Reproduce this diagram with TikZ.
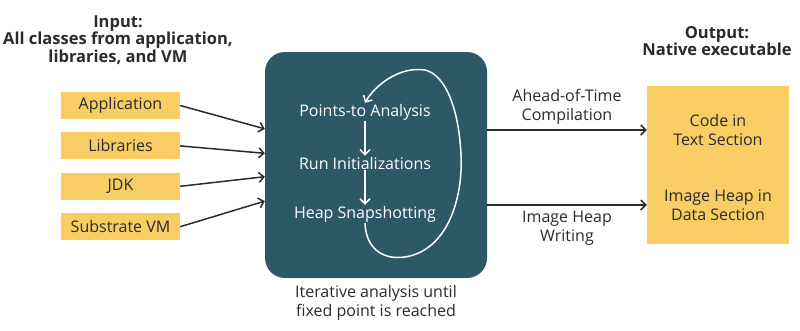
\documentclass[tikz,border=0pt]{standalone}
\usepackage{fontspec}
\setmainfont{Open Sans}
\usepackage{xcolor}
\usetikzlibrary{arrows.meta,positioning}
\definecolor{ochre}{HTML}{F8CD63}
\definecolor{petrol}{HTML}{2C5868}
\definecolor{ink}{HTML}{2B2B2B}

\begin{document}
\begin{tikzpicture}[
    x=1pt, y=-1pt,
    font=\fontsize{16}{18.5}\selectfont,
    node distance=13pt and 9mm,
    inbox/.style={fill=ochre, text=ink, minimum width=119pt, minimum height=27pt, inner sep=0pt},
    head/.style={font=\fontsize{16.5}{17.5}\selectfont\bfseries, align=center, text=ink},
    lbl/.style={align=center, text=ink},
    stage/.style={text=white, inner sep=1pt},
    arr/.style={-{Straight Barb[length=5pt,width=10pt]}, line width=1.5pt, draw=ink},
    warr/.style={-{Straight Barb[length=5pt,width=10pt]}, line width=1.5pt, draw=white}
]
\useasboundingbox (0,0) rectangle (800,330);

% Input
\node[head] (inhead) at (118,40) {Input:\\All classes from application,\\libraries, and VM};
\node[inbox] (app) at (120.5,105.5) {Application};
\node[inbox, below=of app] (libs) {Libraries};
\node[inbox, below=of libs] (jdk) {JDK};
\node[inbox, below=of jdk] (svm) {Substrate VM};

% Analysis
\node[fill=petrol, rounded corners=20pt, minimum width=222pt, minimum height=226pt] (core) at (376,165) {};
\node[stage] (pta) at (365,112) {Points-to Analysis};
\node[stage] (init) at (365,163) {Run Initializations};
\node[stage] (snap) at (365,214) {Heap Snapshotting};
\node[lbl, below=4pt of core] (fix) {Iterative analysis until\\fixed point is reached};

% Output
\node[head] (outhead) at (717,41) {Output:\\Native executable};
\node[fill=ochre, minimum width=142pt, minimum height=158pt] (out) at (718,165) {};
\node[lbl] (code) at (718,130) {Code in\\Text Section};
\node[lbl] (heap) at (718,205) {Image Heap in\\Data Section};

\draw[arr] (app.east) -- (core.162);
\draw[arr] (libs.east) -- (core.174);
\draw[arr] (jdk.east) -- (core.186);
\draw[arr] (svm.east) -- (core.198);

\draw[warr] (pta) -- (init);
\draw[warr] (init) -- (snap);
\draw[warr] (snap.south) .. controls (366,250) and (385,262) .. (410,256)
    .. controls (452,245) and (463,190) .. (461,155)
    .. controls (459,110) and (446,75) .. (425,70)
    .. controls (400,66) and (375,85) .. (pta.north);

\draw[arr] (core.east |- code) -- node[lbl, above=2pt] {Ahead-of-Time\\Compilation} (out.west |- code);
\draw[arr] (core.east |- heap) -- node[lbl, below=2pt] {Image Heap\\Writing} (out.west |- heap);
\end{tikzpicture}
\end{document}
